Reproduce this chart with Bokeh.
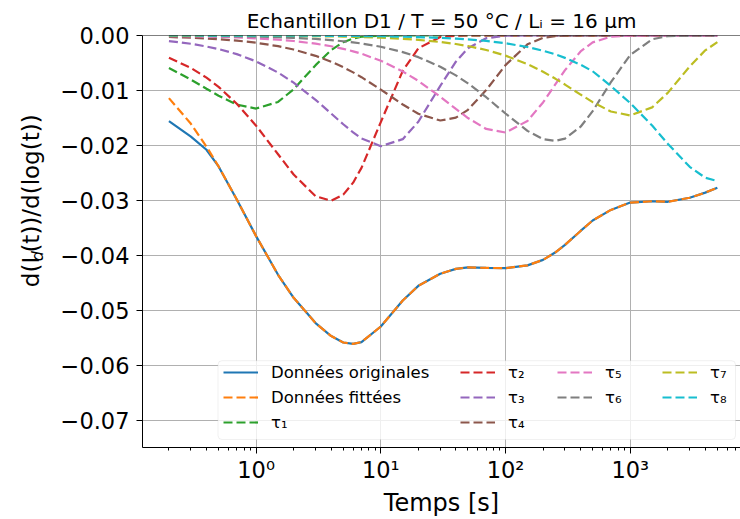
import math
from bokeh.plotting import figure
from bokeh.layouts import row
from bokeh.models import (FixedTicker, CustomJSTickFormatter, Legend, LegendItem,
                          BoxAnnotation, Span, Range1d)
from bokeh.core.properties import value
from bokeh.embed import file_html
from bokeh.resources import INLINE

# ---------------- data ----------------
t = [0.2, 0.3, 0.4, 0.5, 0.7, 1, 1.5, 2, 3, 4, 5, 6, 7, 10, 15, 20, 30, 40, 50, 70,
     100, 150, 200, 250, 300, 400, 500, 700, 1000, 1500, 2000, 3000, 4000, 5000]

original = [-0.0156, -0.0184, -0.0208, -0.02383, -0.02986, -0.03652, -0.04356, -0.04775,
            -0.05235, -0.05472, -0.05588, -0.05614, -0.05581, -0.05297, -0.04825, -0.04557,
            -0.04336, -0.04249, -0.04222, -0.04231, -0.04236, -0.04184, -0.04084, -0.03951,
            -0.03811, -0.03558, -0.03367, -0.03175, -0.03041, -0.03017, -0.03027, -0.02954,
            -0.0286, -0.02771]

fitted = [-0.0114, -0.01607, -0.02022, -0.02383, -0.02986, -0.03652, -0.04356, -0.04775,
          -0.05235, -0.05472, -0.05588, -0.05614, -0.05581, -0.05297, -0.04825, -0.04557,
          -0.04336, -0.04249, -0.04222, -0.04231, -0.04236, -0.04184, -0.04084, -0.03951,
          -0.03811, -0.03558, -0.03367, -0.03175, -0.03041, -0.03017, -0.03027, -0.02954,
          -0.0286, -0.02771]

tau1 = [-0.00592, -0.00803, -0.00969, -0.01096, -0.01257, -0.0133, -0.0121, -0.00978,
        -0.0054, -0.00265, -0.00122, -0.00054, -0.00023, -0.00002, 0, 0, 0, 0, 0, 0,
        0, 0, 0, 0, 0, 0, 0, 0, 0, 0, 0, 0, 0, 0]

tau2 = [-0.00404, -0.00591, -0.00768, -0.00935, -0.01243, -0.01642, -0.02162, -0.02531,
        -0.02926, -0.03007, -0.02897, -0.02679, -0.0241, -0.01576, -0.00643, -0.00233,
        -0.00026, -0.00003, 0, 0, 0, 0, 0, 0, 0, 0, 0, 0, 0, 0, 0, 0, 0, 0]

tau3 = [-0.00102, -0.00151, -0.002, -0.00247, -0.00339, -0.00471, -0.00674, -0.00858,
        -0.01171, -0.01421, -0.01616, -0.01764, -0.01873, -0.02016, -0.01887, -0.0157,
        -0.00917, -0.00476, -0.00232, -0.00049, -0.00004, 0, 0, 0, 0, 0, 0, 0, 0, 0,
        0, 0, 0, 0]

tau4 = [-0.00027, -0.0004, -0.00054, -0.00067, -0.00093, -0.00132, -0.00194, -0.00255,
        -0.0037, -0.00477, -0.00578, -0.00671, -0.00759, -0.00984, -0.01256, -0.01425,
        -0.01548, -0.01495, -0.01353, -0.00994, -0.00539, -0.00161, -0.00043, -0.00011,
        -0.00003, 0, 0, 0, 0, 0, 0, 0, 0, 0]

tau5 = [-0.0001, -0.00015, -0.0002, -0.00025, -0.00036, -0.00051, -0.00076, -0.001,
        -0.00149, -0.00196, -0.00243, -0.00288, -0.00332, -0.0046, -0.00655, -0.00827,
        -0.01116, -0.01337, -0.01503, -0.01701, -0.01766, -0.01556, -0.01219, -0.00895,
        -0.00631, -0.0029, -0.00125, -0.00021, -0.00001, 0, 0, 0, 0, 0]

tau6 = [-0.00004, -0.00006, -0.00009, -0.00011, -0.00015, -0.00021, -0.00032, -0.00042,
        -0.00063, -0.00084, -0.00105, -0.00125, -0.00146, -0.00205, -0.00302, -0.00394,
        -0.00568, -0.00726, -0.00871, -0.01124, -0.0142, -0.01736, -0.01885, -0.01919,
        -0.01877, -0.01661, -0.01378, -0.0085, -0.00355, -0.00069, -0.00012, -0.00001,
        0, 0]

tau7 = [-0.00001, -0.00001, -0.00002, -0.00002, -0.00003, -0.00004, -0.00006, -0.00008,
        -0.00012, -0.00016, -0.0002, -0.00024, -0.00028, -0.0004, -0.0006, -0.00079,
        -0.00118, -0.00155, -0.00192, -0.00264, -0.00366, -0.00521, -0.0066, -0.00784,
        -0.00893, -0.01075, -0.01213, -0.01384, -0.01455, -0.01308, -0.01045, -0.00563,
        -0.0027, -0.00121]

tau8 = [0, 0, -0.00001, -0.00001, -0.00001, -0.00001, -0.00002, -0.00003,
        -0.00004, -0.00006, -0.00007, -0.00009, -0.0001, -0.00014, -0.00022, -0.00029,
        -0.00043, -0.00057, -0.00071, -0.00099, -0.00141, -0.0021, -0.00277, -0.00342,
        -0.00407, -0.00532, -0.00651, -0.0092, -0.0123, -0.0164, -0.0197, -0.0239,
        -0.0259, -0.0265]

y_ticks = [0.0, -0.01, -0.02, -0.03, -0.04, -0.05, -0.06, -0.07]
x_ticks = [1, 10, 100, 1000]

title_text = "Echantillon D1 / T = 50 \u00b0C / L\u1d62 = 16 \u00b5m"
x_label = "Temps [s]"
y_label_parts = ["d(I", "d", "(t))/d(log(t))"]
legend_labels = ["Donn\u00e9es originales", "Donn\u00e9es fitt\u00e9es",
                 "\u03c4\u2081", "\u03c4\u2082", "\u03c4\u2083", "\u03c4\u2084",
                 "\u03c4\u2085", "\u03c4\u2086", "\u03c4\u2087", "\u03c4\u2088"]

# ---------------- layout ----------------
FONT = "DejaVu Sans"
H = 519
LABEL_W = 50                 # width of the strip holding the y-axis label
W_MAIN = 690                 # main figure width  (total 740)
FRAME_L, FRAME_R, FRAME_T, FRAME_B = 142, 740, 35, 448   # page pixels
DECADE_PX = 124.7
X0_LOG = -0.911
X1_LOG = X0_LOG + (FRAME_R - FRAME_L) / DECADE_PX
Y0, Y1 = -0.075, 0.0


def xd(px):
    return 10 ** (X0_LOG + (px - FRAME_L) / DECADE_PX)


def yd(py):
    return Y1 + (py - FRAME_T) * (Y0 - Y1) / (FRAME_B - FRAME_T)


p = figure(width=W_MAIN, height=H, x_axis_type="log",
           x_range=Range1d(10 ** X0_LOG, 10 ** X1_LOG), y_range=Range1d(Y0, Y1),
           output_backend="svg", toolbar_location=None,
           min_border_left=FRAME_L - LABEL_W, min_border_right=W_MAIN + LABEL_W - FRAME_R,
           min_border_top=FRAME_T, min_border_bottom=H - FRAME_B)
p.outline_line_color = None
p.background_fill_color = "white"
p.border_fill_color = "white"

p.title.text = title_text
p.title.align = "center"
p.title.text_font = FONT
p.title.text_font_size = "20px"
p.title.text_font_style = "normal"
p.title.text_color = "black"
p.title.standoff = 6
p.title.offset = 1.5

minor = []
for d in [-1, 0, 1, 2, 3]:
    for m in range(2, 10):
        v = m * 10 ** d
        if 10 ** X0_LOG < v < 10 ** X1_LOG:
            minor.append(v)

p.xaxis.ticker = FixedTicker(ticks=x_ticks, minor_ticks=minor)
p.xaxis.formatter = CustomJSTickFormatter(code=r"""
const s = ['\u2070', '\u00b9', '\u00b2', '\u00b3', '\u2074'];
const e = Math.round(Math.log10(tick));
return '10' + s[e];
""")
p.yaxis.ticker = FixedTicker(ticks=y_ticks)
p.yaxis.formatter = CustomJSTickFormatter(code=r"""
return tick.toFixed(2).replace('-', '\u2212');
""")

for ax in [p.xaxis[0], p.yaxis[0]]:
    ax.axis_line_color = "black"
    ax.axis_line_width = 1
    ax.major_tick_line_color = "black"
    ax.minor_tick_line_color = "black"
    ax.major_tick_out = 6
    ax.major_tick_in = 0
    ax.minor_tick_out = 3
    ax.minor_tick_in = 0
    ax.major_label_text_font = FONT
    ax.major_label_text_font_size = "22.5px"
    ax.major_label_text_color = "black"
p.yaxis.minor_tick_line_color = None
p.yaxis.major_label_standoff = 7
p.xaxis.major_label_standoff = 3
p.xaxis.axis_label = x_label
p.xaxis.axis_label_text_font = FONT
p.xaxis.axis_label_text_font_size = "24px"
p.xaxis.axis_label_text_font_style = "normal"
p.xaxis.axis_label_text_color = "black"
p.xaxis.axis_label_standoff = 3

p.xgrid.grid_line_color = "#b0b0b0"
p.ygrid.grid_line_color = "#b0b0b0"
p.xgrid.grid_line_width = 1
p.ygrid.grid_line_width = 1

# top spine
p.add_layout(Span(location=0.0, dimension="width", line_color="black", line_width=1))

colors = ["#1f77b4", "#ff7f0e", "#2ca02c", "#d62728", "#9467bd", "#8c564b",
          "#e377c2", "#7f7f7f", "#bcbd22", "#17becf"]
series = [original, fitted, tau1, tau2, tau3, tau4, tau5, tau6, tau7, tau8]
renderers = []
for i, (ys, c) in enumerate(zip(series, colors)):
    if i == 0:
        r = p.line(t, ys, line_color=c, line_width=2.2)
    else:
        r = p.line(t, ys, line_color=c, line_width=2.2, line_dash="9 4")
    renderers.append(r)

# legend frame
p.add_layout(BoxAnnotation(left=xd(217.5), right=xd(735), top=yd(361), bottom=yd(440),
                           fill_color="white", fill_alpha=0.8, line_color="#cccccc",
                           line_width=1, border_radius=4))

groups = [([0, 1, 2], (81, 15)), ([3, 4, 5], (318, 15)), ([6, 7], (415, 40)), ([8, 9], (520, 40))]
for idx, loc in groups:
    items = [LegendItem(label=legend_labels[k], renderers=[renderers[k]]) for k in idx]
    lg = Legend(items=items, location=loc, orientation="vertical", padding=0, margin=0,
                spacing=5, glyph_width=35, glyph_height=20, label_height=20,
                label_standoff=13, label_text_font=FONT, label_text_font_size="16.5px",
                label_text_color="black", background_fill_alpha=0, border_line_alpha=0)
    p.add_layout(lg)

# ---------------- y-axis label strip ----------------
q = figure(width=LABEL_W, height=H, x_range=Range1d(0, LABEL_W), y_range=Range1d(H, 0),
           output_backend="svg", toolbar_location=None,
           x_axis_location=None, y_axis_location=None,
           min_border_left=0, min_border_right=0, min_border_top=0, min_border_bottom=0)
q.outline_line_color = None
q.xgrid.visible = False
q.ygrid.visible = False
q.background_fill_color = "white"
q.border_fill_color = "white"

LX = 30          # label centre (page x)
Y_START = 317    # bottom end of the rotated label (page y)
w1 = 32.5        # advance of "d(I" at 23px (+ small gap)
w2 = 11.0        # advance of subscript "d" at 16px
q.text(x=[LX], y=[Y_START], text=[y_label_parts[0]], angle=math.pi / 2,
       text_align="left", text_baseline="middle", text_font=value(FONT),
       text_font_size="23px", text_color="black")
q.text(x=[LX + 7], y=[Y_START - w1], text=[y_label_parts[1]], angle=math.pi / 2,
       text_align="left", text_baseline="middle", text_font=value(FONT),
       text_font_size="16px", text_font_style="italic", text_color="black")
q.text(x=[LX], y=[Y_START - w1 - w2], text=[y_label_parts[2]], angle=math.pi / 2,
       text_align="left", text_baseline="middle", text_font=value(FONT),
       text_font_size="23px", text_color="black")

layout = row(q, p)
open("out.html", "w", encoding="utf-8").write(file_html(layout, INLINE))
